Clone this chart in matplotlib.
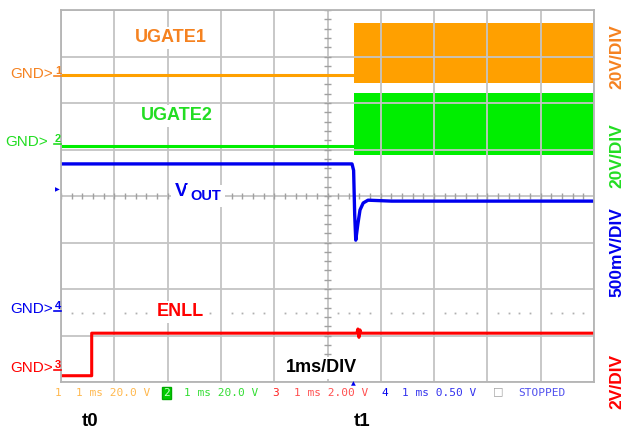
import numpy as np
import matplotlib.pyplot as plt
from matplotlib.lines import Line2D

W, H = 630, 428

ORANGE = '#FFA000'
ORANGE_TXT = '#F58220'
GREEN = '#00EE00'
GREEN_TXT = '#22DD22'
BLUE = '#0000EE'
RED = '#FF0000'

# time in ms (1 ms/DIV, 10 div), level in divisions from the bottom of the screen
ugate1_t = [0.0, 5.50]
ugate1_v = [6.60, 6.60]
ugate1_band_t = [5.50, 10.0]
ugate1_band_hi = [7.72, 7.72]
ugate1_band_lo = [6.43, 6.43]

ugate2_t = [0.0, 5.50]
ugate2_v = [5.08, 5.08]
ugate2_band_t = [5.50, 10.0]
ugate2_band_hi = [6.22, 6.22]
ugate2_band_lo = [4.88, 4.88]

vout_t = [0.0, 5.46, 5.49, 5.51, 5.53, 5.57, 5.61, 5.67, 5.76, 6.2, 10.0]
vout_v = [4.69, 4.69, 4.55, 3.60, 3.05, 3.40, 3.70, 3.85, 3.91, 3.89, 3.89]

enll_t = [0.0, 0.576, 0.576, 5.55, 5.57, 5.59, 5.61, 5.63, 10.0]
enll_v = [0.135, 0.135, 1.05, 1.05, 1.14, 0.96, 1.12, 1.05, 1.05]

gnd4_level = 1.48

# scope status line: (text, left x in px, colour)
status = [
    ('1', 55, '#FFB84D'),
    ('1 ms 20.0 V', 76, '#FFB84D'),
    ('2', 163, '#00CC00'),
    ('1 ms 20.0 V', 184, '#33DD33'),
    ('3', 272, '#FF2020'),
    ('1 ms 2.00 V', 294, '#FF5050'),
    ('4', 381, '#0000EE'),
    ('1 ms 0.50 V', 402, '#3333EE'),
    ('STOPPED', 518, '#5050EE'),
]


def fx(x):
    return x / W


def fy(y):
    return 1 - y / H


fig = plt.figure(figsize=(6.3, 4.28), dpi=100)
ax = fig.add_axes([61 / W, 1 - 382 / H, 533 / W, 372 / H])
ax.set_xlim(0, 10)
ax.set_ylim(0, 8)
ax.set_xticks(range(11))
ax.set_yticks(range(9))
ax.grid(color='#c4c4c4', lw=1.3)
ax.tick_params(length=0, labelbottom=False, labelleft=False)
for s in ax.spines.values():
    s.set_color('#b4b4b4')
    s.set_linewidth(1.3)

# centre axes with minor ticks
minor_x = np.arange(0, 10.001, 0.2)
minor_y = np.arange(0, 8.001, 0.2)
ax.vlines(minor_x, 4 - 0.065, 4 + 0.065, color='#a0a0a0', lw=1)
ax.hlines(minor_y, 5 - 0.06, 5 + 0.06, color='#a0a0a0', lw=1)
dots = [x for x in minor_x if abs(x - round(x)) > 0.01]
ax.plot(dots, [gnd4_level] * len(dots), ls='none', marker='s', ms=1.3,
        color='#b0b0b0', mec='none')

# traces
ax.plot(ugate1_t, ugate1_v, color=ORANGE, lw=2.2)
ax.fill_between(ugate1_band_t, ugate1_band_lo, ugate1_band_hi, color=ORANGE, lw=0)
ax.plot(ugate2_t, ugate2_v, color=GREEN, lw=2.2)
ax.fill_between(ugate2_band_t, ugate2_band_lo, ugate2_band_hi, color=GREEN, lw=0)
ax.plot(vout_t, vout_v, color=BLUE, lw=2.4)
ax.plot(enll_t, enll_v, color=RED, lw=2.2)

# trace labels
lab = dict(fontsize=13, fontweight='bold', family=['Liberation Sans', 'DejaVu Sans'],
           bbox=dict(fc='white', ec='none', pad=1.5))
fig.text(fx(135), fy(38), 'UGATE1', color=ORANGE_TXT, ha='left', va='center', **lab)
fig.text(fx(141), fy(116), 'UGATE2', color=GREEN_TXT, ha='left', va='center', **lab)
fig.text(fx(157), fy(312), 'ENLL', color=RED, ha='left', va='center', **lab)
fig.text(fx(321), fy(368), '1ms/DIV', color='black', ha='center', va='center', **lab)
fig.text(fx(175), fy(196), 'V', color=BLUE, ha='left', va='baseline', fontsize=14,
         fontweight='bold', family=['Liberation Sans', 'DejaVu Sans'],
         bbox=dict(fc='white', ec='none', pad=3))
fig.text(fx(190), fy(200), 'OUT', color=BLUE, ha='left', va='baseline', fontsize=10.5,
         fontweight='bold', family=['Liberation Sans', 'DejaVu Sans'],
         bbox=dict(fc='white', ec='none', pad=3))

# ground markers
gnd = dict(fontsize=11, family=['Liberation Sans', 'DejaVu Sans'],
           ha='right', va='center')
markers = [('1', 53, 74, ORANGE_TXT), ('2', 48, 142, GREEN_TXT),
           ('4', 53, 309, BLUE), ('3', 53, 368, RED)]
for num, xr, yc, col in markers:
    fig.text(fx(xr), fy(yc), 'GND>', color=col, **gnd)
    fig.text(fx(55), fy(yc - 3), num, color=col, fontsize=8, fontweight='bold',
             ha='left', va='center', family=['Liberation Sans', 'DejaVu Sans'])
    fig.add_artist(Line2D([fx(54), fx(61)], [fy(yc + 2), fy(yc + 2)], color=col, lw=1.2))

# level / trigger arrows
fig.text(fx(57), fy(190), '\u25b6', color=BLUE, fontsize=4.5, ha='center', va='center')
fig.text(fx(353), fy(384), '\u25b2', color=BLUE, fontsize=4.5, ha='center', va='center')

# volts per div, right side
vdiv = dict(fontsize=12.5, fontweight='bold', family=['Liberation Sans', 'DejaVu Sans'],
            rotation=90, ha='center', va='center')
fig.text(fx(617), fy(57), '20V/DIV', color=ORANGE_TXT, **vdiv)
fig.text(fx(617), fy(156), '20V/DIV', color=GREEN_TXT, **vdiv)
fig.text(fx(617), fy(252), '500mV/DIV', color=BLUE, **vdiv)
fig.text(fx(617), fy(381), '2V/DIV', color=RED, **vdiv)

# status line
for txt, x0, col in status:
    kw = {}
    if txt == '2':
        kw['bbox'] = dict(fc='#00CC00', ec='#00AA00', pad=0.6)
        col = '#CCFFCC'
    fig.text(fx(x0), fy(393), txt, color=col, fontsize=8, family='DejaVu Sans Mono',
             ha='left', va='center', **kw)
fig.text(fx(493), fy(391), '\u25a1', color='#a0a0a0', fontsize=8, ha='left', va='center')

# time markers
tk = dict(fontsize=13.5, fontweight='bold', family=['Liberation Sans', 'DejaVu Sans'],
          ha='center', va='center', color='black')
fig.text(fx(90), fy(421), 't0', **tk)
fig.text(fx(362), fy(421), 't1', **tk)

fig.savefig('out.png', dpi=100)
